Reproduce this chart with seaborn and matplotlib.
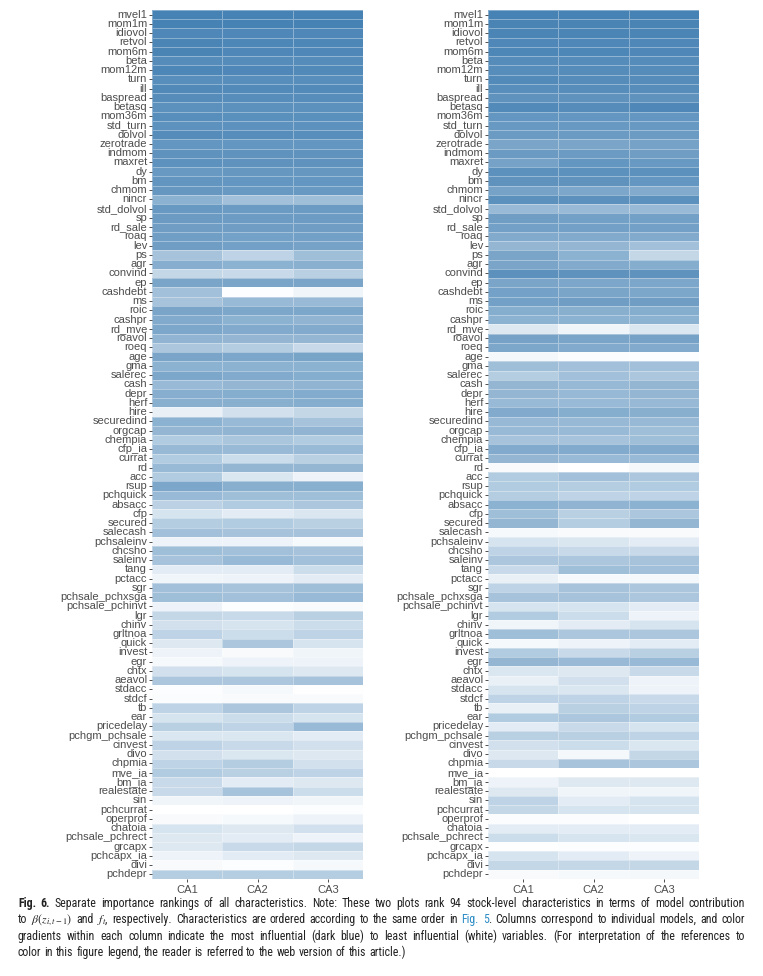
import matplotlib
matplotlib.use("Agg")
import matplotlib.pyplot as plt
import seaborn as sns
import pandas as pd
import numpy as np
from matplotlib import font_manager
from matplotlib.colors import LinearSegmentedColormap

characteristics = [
    "mvel1", "mom1m", "idiovol", "retvol", "mom6m", "beta", "mom12m", "turn", "ill", "baspread",
    "betasq", "mom36m", "std_turn", "dolvol", "zerotrade", "indmom", "maxret", "dy", "bm", "chmom",
    "nincr", "std_dolvol", "sp", "rd_sale", "roaq", "lev", "ps", "agr", "convind", "ep",
    "cashdebt", "ms", "roic", "cashpr", "rd_mve", "roavol", "roeq", "age", "gma", "salerec",
    "cash", "depr", "herf", "hire", "securedind", "orgcap", "chempia", "cfp_ia", "currat", "rd",
    "acc", "rsup", "pchquick", "absacc", "cfp", "secured", "salecash", "pchsaleinv", "chcsho", "saleinv",
    "tang", "pctacc", "sgr", "pchsale_pchxsga", "pchsale_pchinvt", "lgr", "chinv", "grltnoa", "quick", "invest",
    "egr", "chtx", "aeavol", "stdacc", "stdcf", "tb", "ear", "pricedelay", "pchgm_pchsale", "cinvest",
    "divo", "chpmia", "mve_ia", "bm_ia", "realestate", "sin", "pchcurrat", "operprof", "chatoia", "pchsale_pchrect",
    "grcapx", "pchcapx_ia", "divi", "pchdepr",
]
models = ["CA1", "CA2", "CA3"]

# importance, left panel: beta(z)
beta_ca1 = [1.00, 1.00, 0.95, 0.97, 0.98, 0.92, 0.96, 0.90, 0.94, 0.92,
            0.88, 0.90, 0.87, 0.92, 0.84, 0.86, 0.87, 0.82, 0.85, 0.83,
            0.62, 0.82, 0.80, 0.78, 0.77, 0.78, 0.48, 0.65, 0.32, 0.72,
            0.50, 0.48, 0.72, 0.68, 0.70, 0.60, 0.45, 0.72, 0.62, 0.70,
            0.55, 0.65, 0.64, 0.12, 0.62, 0.58, 0.42, 0.56, 0.42, 0.55,
            0.42, 0.70, 0.55, 0.36, 0.22, 0.40, 0.50, 0.10, 0.52, 0.48,
            0.15, 0.08, 0.50, 0.52, 0.10, 0.32, 0.25, 0.35, 0.18, 0.10,
            0.05, 0.25, 0.45, 0.02, 0.03, 0.35, 0.22, 0.38, 0.20, 0.35,
            0.25, 0.35, 0.42, 0.30, 0.30, 0.08, 0.00, 0.04, 0.22, 0.18,
            0.18, 0.10, 0.04, 0.40]
beta_ca2 = [1.00, 1.00, 0.95, 0.96, 0.95, 0.92, 0.95, 0.90, 0.93, 0.91,
            0.88, 0.89, 0.87, 0.91, 0.84, 0.86, 0.86, 0.83, 0.84, 0.82,
            0.50, 0.80, 0.79, 0.78, 0.75, 0.76, 0.35, 0.62, 0.30, 0.72,
            0.02, 0.55, 0.70, 0.62, 0.68, 0.58, 0.40, 0.70, 0.62, 0.68,
            0.58, 0.66, 0.64, 0.25, 0.55, 0.60, 0.46, 0.55, 0.28, 0.58,
            0.20, 0.64, 0.52, 0.42, 0.15, 0.42, 0.48, 0.10, 0.50, 0.55,
            0.15, 0.10, 0.48, 0.50, 0.02, 0.30, 0.22, 0.28, 0.45, 0.04,
            0.10, 0.22, 0.45, 0.05, 0.04, 0.45, 0.28, 0.35, 0.20, 0.30,
            0.20, 0.40, 0.38, 0.15, 0.48, 0.10, 0.00, 0.05, 0.18, 0.15,
            0.30, 0.15, 0.02, 0.40]
beta_ca3 = [1.00, 1.00, 0.95, 0.96, 0.95, 0.92, 0.94, 0.90, 0.93, 0.91,
            0.88, 0.89, 0.87, 0.90, 0.84, 0.86, 0.86, 0.83, 0.84, 0.82,
            0.52, 0.80, 0.79, 0.78, 0.76, 0.74, 0.52, 0.63, 0.38, 0.72,
            0.08, 0.55, 0.70, 0.60, 0.68, 0.58, 0.30, 0.73, 0.62, 0.66,
            0.60, 0.67, 0.66, 0.32, 0.48, 0.60, 0.42, 0.55, 0.38, 0.58,
            0.10, 0.64, 0.52, 0.45, 0.20, 0.38, 0.48, 0.05, 0.48, 0.50,
            0.28, 0.15, 0.52, 0.55, 0.04, 0.38, 0.28, 0.35, 0.22, 0.08,
            0.10, 0.18, 0.48, 0.01, 0.04, 0.35, 0.22, 0.55, 0.15, 0.25,
            0.18, 0.25, 0.35, 0.18, 0.28, 0.08, 0.02, 0.10, 0.25, 0.10,
            0.32, 0.18, 0.05, 0.40]

# importance, right panel: f
factor_ca1 = [1.00, 0.98, 0.97, 0.95, 0.96, 0.92, 0.91, 0.93, 0.90, 0.86,
              0.93, 0.84, 0.82, 0.80, 0.72, 0.80, 0.74, 0.88, 0.86, 0.74,
              0.88, 0.55, 0.78, 0.76, 0.68, 0.58, 0.72, 0.72, 0.88, 0.72,
              0.75, 0.76, 0.66, 0.62, 0.18, 0.74, 0.70, 0.06, 0.52, 0.40,
              0.58, 0.58, 0.55, 0.68, 0.56, 0.55, 0.48, 0.68, 0.58, 0.04,
              0.42, 0.42, 0.40, 0.62, 0.52, 0.58, 0.05, 0.22, 0.35, 0.45,
              0.30, 0.12, 0.35, 0.48, 0.22, 0.42, 0.08, 0.52, 0.05, 0.42,
              0.58, 0.20, 0.12, 0.22, 0.35, 0.12, 0.42, 0.15, 0.38, 0.25,
              0.18, 0.30, 0.00, 0.10, 0.18, 0.35, 0.32, 0.03, 0.15, 0.28,
              0.01, 0.22, 0.32, 0.04]
factor_ca2 = [1.00, 0.98, 0.97, 0.95, 0.96, 0.92, 0.92, 0.92, 0.91, 0.86,
              0.92, 0.84, 0.82, 0.80, 0.72, 0.80, 0.84, 0.88, 0.86, 0.70,
              0.88, 0.55, 0.76, 0.76, 0.68, 0.58, 0.62, 0.68, 0.86, 0.70,
              0.72, 0.78, 0.64, 0.62, 0.08, 0.72, 0.68, 0.03, 0.50, 0.50,
              0.56, 0.56, 0.55, 0.66, 0.56, 0.55, 0.48, 0.68, 0.55, 0.00,
              0.50, 0.40, 0.35, 0.60, 0.38, 0.40, 0.04, 0.20, 0.30, 0.45,
              0.52, 0.05, 0.48, 0.48, 0.22, 0.28, 0.15, 0.45, 0.10, 0.30,
              0.55, 0.18, 0.25, 0.20, 0.35, 0.38, 0.45, 0.30, 0.38, 0.28,
              0.06, 0.48, 0.00, 0.18, 0.08, 0.15, 0.22, 0.03, 0.15, 0.22,
              0.02, 0.15, 0.32, 0.05]
factor_ca3 = [1.00, 0.98, 0.97, 0.95, 0.95, 0.92, 0.92, 0.92, 0.91, 0.86,
              0.95, 0.84, 0.82, 0.80, 0.74, 0.78, 0.82, 0.88, 0.84, 0.68,
              0.88, 0.55, 0.76, 0.76, 0.68, 0.50, 0.32, 0.66, 0.86, 0.70,
              0.70, 0.78, 0.66, 0.62, 0.20, 0.74, 0.68, 0.02, 0.50, 0.45,
              0.58, 0.58, 0.56, 0.64, 0.56, 0.52, 0.52, 0.68, 0.55, 0.06,
              0.45, 0.42, 0.35, 0.62, 0.45, 0.58, 0.04, 0.15, 0.30, 0.48,
              0.50, 0.06, 0.45, 0.45, 0.15, 0.10, 0.22, 0.45, 0.15, 0.38,
              0.55, 0.30, 0.10, 0.10, 0.30, 0.35, 0.42, 0.22, 0.35, 0.20,
              0.32, 0.45, 0.00, 0.18, 0.08, 0.22, 0.22, 0.00, 0.15, 0.20,
              0.02, 0.10, 0.32, 0.06]

beta_df = pd.DataFrame({"CA1": beta_ca1, "CA2": beta_ca2, "CA3": beta_ca3}, index=characteristics)
factor_df = pd.DataFrame({"CA1": factor_ca1, "CA2": factor_ca2, "CA3": factor_ca3}, index=characteristics)

plt.rcParams["font.family"] = ["Liberation Sans", "DejaVu Sans"]
plt.rcParams["mathtext.fontset"] = "stix"

cmap = LinearSegmentedColormap.from_list("wb", ["#ffffff", "#4682b4"])

fig = plt.figure(figsize=(7.63, 9.76), dpi=100)
ax_left = fig.add_axes([0.1992, 0.0994, 0.2766, 0.8904])
ax_right = fig.add_axes([0.6396, 0.0994, 0.2766, 0.8904])

for ax, df in [(ax_left, beta_df), (ax_right, factor_df)]:
    sns.heatmap(df, ax=ax, cmap=cmap, vmin=0, vmax=1, cbar=False,
                linewidths=0.5, linecolor=(1, 1, 1, 0.35),
                xticklabels=models, yticklabels=characteristics)
    ax.tick_params(axis="y", length=2.5, width=0.6, color="#333333",
                   labelsize=8, labelcolor="#4d4d4d", pad=1)
    ax.tick_params(axis="x", length=2.5, width=0.6, color="#333333",
                   labelsize=8, labelcolor="#4d4d4d", pad=2)
    ax.set_xlabel("")
    ax.set_ylabel("")
    plt.setp(ax.get_yticklabels(), rotation=0)

# caption font: a narrow face if one is installed
installed = {f.name for f in font_manager.fontManager.ttflist}
cap_family = "DejaVu Sans"
for name in ["Liberation Sans Narrow", "Roboto Condensed", "Open Sans Condensed", "Roboto", "Liberation Sans"]:
    if name in installed:
        cap_family = name
        break
cap_font = [cap_family, "DejaVu Sans"]

blue = "#2a8bc4"
k = "#222222"
lines = [
    [[("Fig.", k, "bold")], [("6.", k, "bold")], [("Separate", k, "normal")], [("importance", k, "normal")],
     [("rankings", k, "normal")], [("of", k, "normal")], [("all", k, "normal")], [("characteristics.", k, "normal")],
     [("Note:", k, "normal")], [("These", k, "normal")], [("two", k, "normal")], [("plots", k, "normal")],
     [("rank", k, "normal")], [("94", k, "normal")], [("stock-level", k, "normal")], [("characteristics", k, "normal")],
     [("in", k, "normal")], [("terms", k, "normal")], [("of", k, "normal")], [("model", k, "normal")],
     [("contribution", k, "normal")]],
    [[("to", k, "normal")], [(r"$\beta(z_{i,t-1})$", k, "normal")], [("and", k, "normal")], [(r"$f_t$,", k, "normal")],
     [("respectively.", k, "normal")], [("Characteristics", k, "normal")], [("are", k, "normal")], [("ordered", k, "normal")],
     [("according", k, "normal")], [("to", k, "normal")], [("the", k, "normal")], [("same", k, "normal")],
     [("order", k, "normal")], [("in", k, "normal")], [("Fig.", blue, "normal")], [("5", blue, "normal"), (".", k, "normal")],
     [("Columns", k, "normal")], [("correspond", k, "normal")], [("to", k, "normal")], [("individual", k, "normal")],
     [("models,", k, "normal")], [("and", k, "normal")], [("color", k, "normal")]],
    [[(w, k, "normal")] for w in "gradients within each column indicate the most influential (dark blue) to least influential (white) variables. (For interpretation of the references to".split()],
    [[(w, k, "normal")] for w in "color in this figure legend, the reader is referred to the web version of this article.)".split()],
]
line_y = [904, 920, 937, 953]
x0, x1 = 18, 745
min_gap = 3.0

fig.canvas.draw()
renderer = fig.canvas.get_renderer()
W, H = fig.bbox.width, fig.bbox.height


def build(size):
    made_all = []
    for words, ypx in zip(lines, line_y):
        y = 1 - (ypx + 3) / H
        made = []
        for word in words:
            runs = []
            wsum = 0
            for txt, col, wt in word:
                t = fig.text(0, y, txt, color=col, fontweight=wt, fontsize=size,
                             family=cap_font, va="baseline", ha="left")
                tw = t.get_window_extent(renderer).width
                runs.append((t, wsum))
                wsum += tw
            made.append((runs, wsum))
        made_all.append(made)
    return made_all


cap_size = 8.6
while True:
    made_all = build(cap_size)
    need = max(sum(w for _, w in made) + min_gap * (len(made) - 1) for made in made_all[:3])
    if need <= x1 - x0 or cap_size < 5:
        break
    for made in made_all:
        for runs, _ in made:
            for t, _ in runs:
                t.remove()
    cap_size -= 0.2

for li, made in enumerate(made_all):
    widths = [w for _, w in made]
    if li < 3:
        gap = (x1 - x0 - sum(widths)) / (len(made) - 1)
    else:
        gap = min_gap
    x = x0
    for runs, wsum in made:
        for t, off in runs:
            t.set_x((x + off) / W)
        x += wsum + gap

fig.savefig("out.png", dpi=100)
